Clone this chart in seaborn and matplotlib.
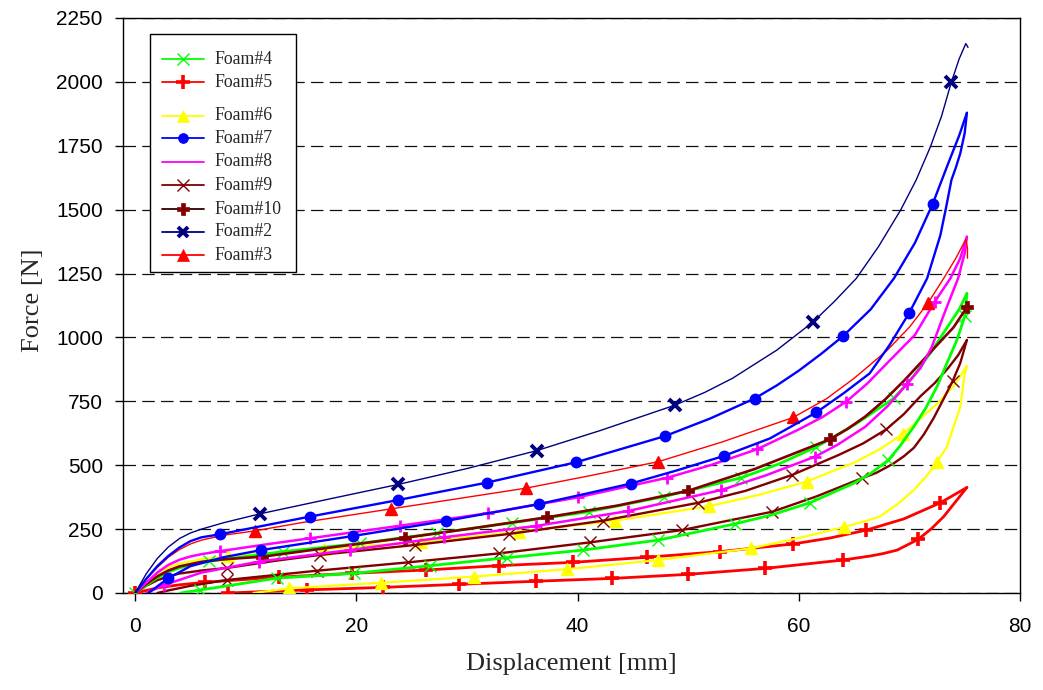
import matplotlib
matplotlib.use("Agg")
import matplotlib.pyplot as plt
from matplotlib.lines import Line2D
from matplotlib.patches import Rectangle
import seaborn as sns

# ---------------------------------------------------------------------------
# Force-displacement records (displacement in mm, force in N).
# "load" = compression branch, "unload" = return branch.
# "*_marks" lists the displacements that carry a symbol.
# ---------------------------------------------------------------------------
foam2_load_x = [0, 1, 2, 3, 4, 5, 6, 8, 11.3, 14, 18, 23.8, 30, 36.3, 42, 48.8,
                51.5, 54, 58, 61.3, 63.2, 65.2, 67.2, 69.2, 70.6, 71.9, 72.9,
                73.8, 74.5, 75.1, 75.3]
foam2_load_y = [0, 75, 135, 180, 213, 235, 250, 275, 310, 335, 372, 425, 487, 557,
                635, 735, 785, 840, 950, 1061, 1140, 1231, 1355, 1498, 1615, 1746,
                1865, 2000, 2090, 2150, 2135]
foam2_load_marks = [11.3, 23.8, 36.3, 48.8, 61.3, 73.8]

foam7_load_x = [0, 1, 2, 3, 4, 5, 6, 7.7, 11.8, 15.8, 23.8, 31.8, 39.9, 47.9, 52,
                56.0, 58, 60, 62, 64.0, 66.5, 68.6, 70.5, 72.1, 73.5, 74.5, 75.2]
foam7_load_y = [0, 55, 105, 145, 178, 203, 218, 230, 265, 299, 364, 432, 512, 614,
                683, 761, 812, 870, 935, 1005, 1110, 1231, 1370, 1522, 1680, 1790,
                1879]
foam7_load_marks = [7.7, 15.8, 23.8, 31.8, 39.9, 47.9, 56.0, 64.0, 72.1]
foam7_unload_x = [75.2, 75.0, 74.6, 74.2, 73.8, 73.3, 72.8, 71.6, 70.0, 68.2, 66.4,
                  64.0, 61.6, 57.4, 53.2, 49.0, 44.8, 40.6, 36.5, 28.1, 19.7, 11.4,
                  8.0, 5.0, 3.0, 1.2]
foam7_unload_y = [1879, 1800, 1720, 1665, 1616, 1505, 1400, 1231, 1097, 970, 859,
                  780, 707, 605, 536, 480, 428, 387, 348, 282, 223, 168, 140, 105,
                  58, 0]
foam7_unload_marks = [70.0, 61.6, 53.2, 44.8, 36.5, 28.1, 19.7, 11.4, 3.0]

foam3_load_x = [0, 1, 2, 3, 4, 5, 6, 8, 10.8, 15, 23.1, 29, 35.3, 41, 47.3, 53,
                59.5, 62.5, 65, 68, 70, 71.7, 73.1, 74.2, 75.1, 75.25, 75.25]
foam3_load_y = [0, 55, 100, 140, 170, 192, 207, 226, 243, 275, 329, 368, 410, 458,
                514, 590, 687, 760, 840, 950, 1040, 1136, 1231, 1310, 1384, 1350,
                1310]
foam3_load_marks = [10.8, 23.1, 35.3, 47.3, 59.5, 71.7]

foam8_load_x = [0, 1, 2, 3, 4, 5, 6, 7.7, 11.8, 15.8, 23.9, 31.9, 40.0, 48.1, 52,
                56.2, 60, 62.2, 64.3, 66.2, 68, 70.5, 72.3, 73.7, 74.6, 75.2]
foam8_load_y = [0, 40, 80, 110, 130, 143, 152, 164, 190, 214, 263, 312, 374, 451,
                500, 562, 640, 690, 749, 820, 900, 1010, 1140, 1231, 1310, 1394]
foam8_load_marks = [7.7, 15.8, 23.9, 31.9, 40.0, 48.1, 56.2, 64.3, 72.3]
foam8_unload_x = [75.2, 75.0, 74.4, 73.3, 72.0, 71.0, 69.8, 68.0, 66.0, 63.5, 61.5,
                  57.0, 53.0, 44.6, 36.2, 27.9, 19.4, 11.2, 6.0, 2.6, 1.0]
foam8_unload_y = [1394, 1330, 1231, 1110, 960, 880, 818, 730, 650, 580, 534, 460,
                  403, 321, 262, 218, 168, 123, 80, 31, 0]
foam8_unload_marks = [69.8, 61.5, 53.0, 44.6, 36.2, 27.9, 19.4, 11.2, 2.6]

foam10_load_x = [0, 1, 2, 3, 4, 6, 8, 11.5, 18, 24.4, 30.8, 37.2, 43.6, 50.0, 56,
                 62.8, 64.4, 66, 67.8, 69.5, 71, 72.5, 74, 75.2]
foam10_load_y = [0, 35, 65, 88, 104, 122, 132, 142, 180, 216, 255, 296, 342, 400,
                 485, 601, 642, 690, 757, 830, 900, 970, 1040, 1118]
foam10_load_marks = [11.5, 24.4, 37.2, 50.0, 62.8, 75.2]

foam4_load_x = [0, 1, 2, 3, 4, 5, 6.7, 13.4, 20.3, 27.3, 34.1, 41.0, 47.8, 54.8,
                58.2, 61.6, 65.1, 68.6, 70.4, 71.9, 73.5, 74.5, 75.2]
foam4_load_y = [0, 30, 60, 82, 98, 110, 124, 162, 194, 234, 275, 318, 377, 451,
                505, 572, 660, 762, 850, 939, 1045, 1110, 1172]
foam4_load_marks = [0, 6.7, 13.4, 20.3, 27.3, 34.1, 41.0, 47.8, 54.8, 61.6, 68.6]
foam4_unload_x = [75.2, 75.0, 74.3, 73.4, 72.5, 71.5, 70.4, 69.2, 68.1, 66.5, 65.0,
                  61.0, 57.5, 54.2, 47.3, 40.5, 33.6, 26.7, 19.8, 12.8, 5.9, 4.1]
foam4_unload_y = [1172, 1082, 990, 900, 808, 725, 651, 578, 520, 468, 430, 353, 305,
                  270, 207, 168, 138, 107, 77, 58, 12, 0]
foam4_unload_marks = [75.0, 68.1, 61.0, 54.2, 47.3, 40.5, 33.6, 26.7, 19.8, 12.8, 5.9]

foam9_load_x = [0, 1, 2, 3, 4, 6, 8.3, 12.5, 16.7, 25.3, 33.8, 42.3, 50.9, 55.2,
                59.4, 63.6, 65.8, 67.9, 69.5, 71.0, 72.3, 73.5, 74.4, 75.2]
foam9_load_y = [0, 28, 50, 65, 76, 88, 98, 125, 149, 188, 231, 283, 353, 400, 462,
                540, 585, 640, 700, 770, 822, 880, 930, 990]
foam9_load_marks = [8.3, 16.7, 25.3, 33.8, 42.3, 50.9, 59.4, 67.9]
foam9_unload_x = [75.2, 74.6, 73.9, 73.1, 72.2, 71.3, 70.4, 69.5, 68.5, 67.0, 65.7,
                  61.6, 57.6, 49.4, 41.1, 32.9, 24.7, 16.4, 8.3, 5.0, 3.0, 2.0]
foam9_unload_y = [990, 900, 828, 760, 685, 620, 568, 535, 505, 470, 449, 378, 318,
                  246, 198, 155, 120, 87, 51, 28, 10, 0]
foam9_unload_marks = [73.9, 65.7, 57.6, 49.4, 41.1, 32.9, 24.7, 16.4, 8.3]

foam6_load_x = [0, 1, 2, 3, 4, 6, 8.4, 17.1, 25.8, 34.7, 43.4, 51.9, 56.3, 60.7,
                65.0, 67.3, 69.4, 72.5, 74.0, 75.2]
foam6_load_y = [0, 40, 75, 100, 115, 132, 143, 172, 200, 240, 283, 340, 383, 436,
                510, 562, 622, 740, 810, 888]
foam6_load_marks = [8.4, 17.1, 25.8, 34.7, 43.4, 51.9, 60.7, 69.4]
foam6_unload_x = [75.2, 75.0, 74.6, 73.4, 72.5, 71.5, 70.4, 69.0, 67.3, 65.5, 64.1,
                  60.0, 55.7, 47.3, 39.0, 30.6, 22.2, 13.9, 10.7]
foam6_unload_y = [888, 857, 729, 573, 512, 455, 403, 350, 299, 275, 258, 215, 175,
                  129, 93, 64, 40, 18, 0]
foam6_unload_marks = [72.5, 64.1, 55.7, 47.3, 39.0, 30.6, 22.2, 13.9]

foam5_load_x = [0, 2, 4, 6.3, 13.0, 19.6, 26.3, 32.9, 39.6, 46.3, 52.9, 59.5, 62.8,
                66.1, 69.5, 72.8, 74.0, 75.2]
foam5_load_y = [0, 20, 32, 42, 62, 77, 90, 107, 120, 140, 162, 192, 215, 246, 290,
                353, 383, 413]
foam5_load_marks = [0, 6.3, 13.0, 19.6, 26.3, 32.9, 39.6, 46.3, 52.9, 59.5, 66.1, 72.8]
foam5_unload_x = [75.2, 74.3, 73.1, 72.0, 70.8, 68.9, 67.7, 66.5, 64.0, 56.9, 50.0,
                  43.1, 36.2, 29.3, 22.4, 15.5, 8.4]
foam5_unload_y = [413, 364, 299, 252, 210, 168, 155, 145, 129, 96, 73, 57, 46, 34,
                  22, 12, 0]
foam5_unload_marks = [70.8, 64.0, 56.9, 50.0, 43.1, 36.2, 29.3, 22.4, 15.5, 8.4]

legend_labels = ["Foam#4", "Foam#5", None, "Foam#6", "Foam#7", "Foam#8", "Foam#9",
                 "Foam#10", "Foam#2", "Foam#3"]

x_ticks = [0, 20, 40, 60, 80]
y_ticks = [0, 250, 500, 750, 1000, 1250, 1500, 1750, 2000, 2250]

# ---------------------------------------------------------------------------
# Styles per specimen
# ---------------------------------------------------------------------------
styles = {
    "Foam#4": dict(color="#00FF00", lw=2.0, marker="x", ms=9, mew=1.0),
    "Foam#5": dict(color="#FF0000", lw=2.0, marker="+", ms=10, mew=2.6),
    "Foam#6": dict(color="#FFFF00", lw=1.6, marker="^", ms=9, mew=1.0),
    "Foam#7": dict(color="#0000FF", lw=1.7, marker="o", ms=7.5, mew=1.0),
    "Foam#8": dict(color="#FF00FF", lw=1.8, marker="+", ms=9, mew=2.0),
    "Foam#9": dict(color="#800000", lw=1.7, marker="x", ms=9, mew=1.0),
    "Foam#10": dict(color="#800000", lw=1.9, marker="P", ms=8.5, mew=0.5),
    "Foam#2": dict(color="#000080", lw=1.0, marker="x", ms=8, mew=2.8),
    "Foam#3": dict(color="#FF0000", lw=1.0, marker="^", ms=9, mew=1.0),
}

curves = [
    ("Foam#5", foam5_load_x, foam5_load_y, foam5_load_marks),
    ("Foam#5", foam5_unload_x, foam5_unload_y, foam5_unload_marks),
    ("Foam#6", foam6_load_x, foam6_load_y, foam6_load_marks),
    ("Foam#6", foam6_unload_x, foam6_unload_y, foam6_unload_marks),
    ("Foam#9", foam9_load_x, foam9_load_y, foam9_load_marks),
    ("Foam#9", foam9_unload_x, foam9_unload_y, foam9_unload_marks),
    ("Foam#4", foam4_load_x, foam4_load_y, foam4_load_marks),
    ("Foam#4", foam4_unload_x, foam4_unload_y, foam4_unload_marks),
    ("Foam#10", foam10_load_x, foam10_load_y, foam10_load_marks),
    ("Foam#8", foam8_load_x, foam8_load_y, foam8_load_marks),
    ("Foam#8", foam8_unload_x, foam8_unload_y, foam8_unload_marks),
    ("Foam#3", foam3_load_x, foam3_load_y, foam3_load_marks),
    ("Foam#7", foam7_load_x, foam7_load_y, foam7_load_marks),
    ("Foam#7", foam7_unload_x, foam7_unload_y, foam7_unload_marks),
    ("Foam#2", foam2_load_x, foam2_load_y, foam2_load_marks),
]

sns.set_style("white")
plt.rcParams["font.family"] = ["Liberation Serif", "DejaVu Serif"]
plt.rcParams["lines.scale_dashes"] = False

W, H = 1043, 690
fig = plt.figure(figsize=(W / 100, H / 100), dpi=100)
ax = fig.add_axes([123 / W, 1 - 593 / H, (1020 - 123) / W, (593 - 18) / H])

for z, (name, xs, ys, marks) in enumerate(curves):
    st = styles[name]
    idx = [i for i, v in enumerate(xs) if v in marks]
    sns.lineplot(x=xs, y=ys, sort=False, estimator=None, ax=ax, legend=False,
                 color=st["color"], linewidth=st["lw"], marker=st["marker"],
                 markevery=idx, markersize=st["ms"],
                 markeredgewidth=st["mew"], markeredgecolor=st["color"],
                 markerfacecolor=st["color"], zorder=3 + z * 0.01)

ax.set_xlim(-1.1, 80)
ax.set_ylim(0, 2250)
ax.set_xticks(x_ticks)
ax.set_yticks(y_ticks)
ax.yaxis.grid(True, color="#111111", linewidth=0.9, linestyle=(0, (9, 4.5)))
ax.xaxis.grid(False)
ax.set_axisbelow(True)

for sp in ax.spines.values():
    sp.set_visible(True)
    sp.set_color("black")
    sp.set_linewidth(1.0)

ax.tick_params(axis="both", which="major", direction="out", length=6, width=1.0,
               color="black", labelsize=15, labelfontfamily="Liberation Sans",
               labelcolor="black")
ax.tick_params(axis="y", pad=8.5, left=True)
ax.tick_params(axis="x", pad=11, bottom=True)

ax.set_xlabel("Displacement [mm]", fontsize=19, family="Liberation Serif")
ax.set_ylabel("Force [N]", fontsize=19, family="Liberation Serif")
ax.xaxis.set_label_coords(0.5, -0.105)
ax.yaxis.set_label_coords(-0.088, 0.51)

# Legend panel with a wider gap after the second entry
box_l, box_t, box_r, box_b = 150, 34, 296, 272
fig.add_artist(Rectangle((box_l / W, 1 - box_b / H), (box_r - box_l) / W,
                         (box_b - box_t) / H, transform=fig.transFigure,
                         facecolor="white", edgecolor="black", lw=1.0, zorder=10))
row_y = [59.3, 82.3, None, 115.7, 138.3, 162, 185, 209, 232, 255]
for label, py in zip(legend_labels, row_y):
    if label is None:
        continue
    st = styles[label]
    fy = 1 - py / H
    lcol = "#300000" if label == "Foam#10" else st["color"]
    fig.add_artist(Line2D([162 / W, 204 / W], [fy, fy], transform=fig.transFigure,
                          color=lcol, lw=1.3, zorder=11))
    if label != "Foam#8":
        fig.add_artist(Line2D([183 / W], [fy], transform=fig.transFigure,
                              marker=st["marker"], ms=st["ms"] * 0.95,
                              mew=st["mew"] if st["marker"] in "x+" else 0.5,
                              mec=st["color"], mfc=st["color"], lw=0, zorder=12))
    fig.text(214 / W, fy, label, transform=fig.transFigure, fontsize=12.8,
             family="Liberation Serif", va="center", ha="left", zorder=12)

fig.savefig("out.png", dpi=100)
